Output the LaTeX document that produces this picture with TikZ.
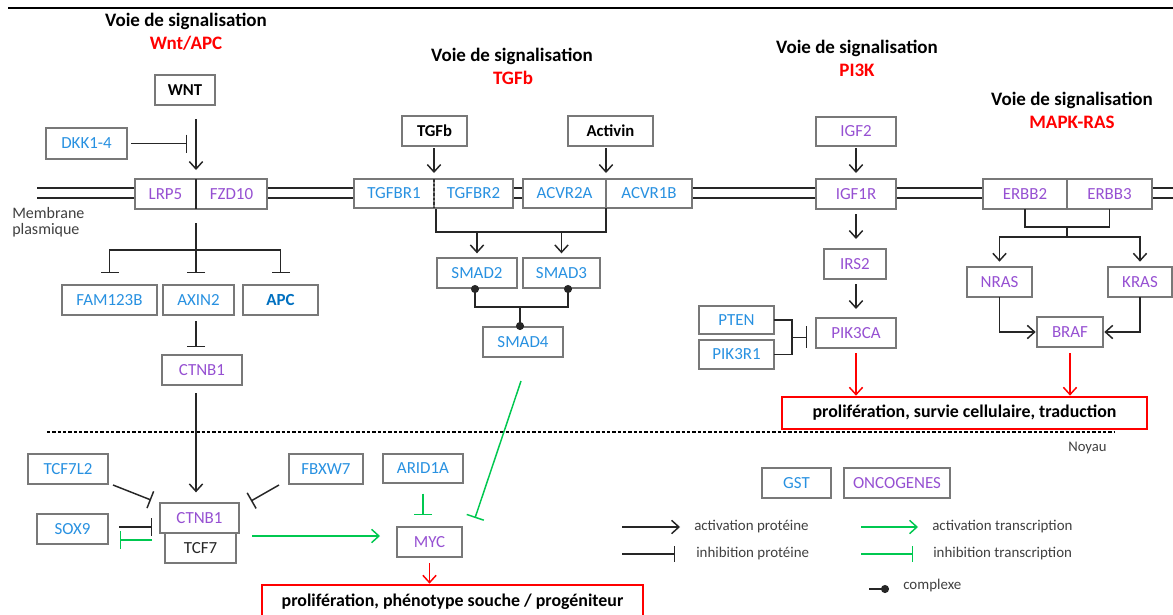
\documentclass[tikz,border=0pt]{standalone}
\usepackage{fontspec}
\setmainfont{Carlito}
\usetikzlibrary{arrows.meta,calc,fit}
\definecolor{gb}{RGB}{40,145,225}
\definecolor{db}{RGB}{0,112,192}
\definecolor{pp}{RGB}{150,80,210}
\definecolor{gr}{RGB}{0,200,80}
\definecolor{bd}{RGB}{120,120,120}
\definecolor{tx}{RGB}{64,64,64}
\definecolor{rd}{RGB}{255,0,0}
\tikzset{
 box/.style={draw=bd, line width=1pt, fill=white, inner sep=0pt, outer sep=0pt},
 lab/.style={inner sep=0pt, font=\fontsize{12.7}{14}\selectfont},
 bl/.style={text=gb},
 pu/.style={text=pp},
 bk/.style={text=black, font=\fontsize{12.5}{14}\selectfont\bfseries},
 apcst/.style={text=db, font=\fontsize{12.7}{14}\selectfont\bfseries},
 plain/.style={text=black!85},
 rbox/.style={draw=rd, line width=1.2pt, fill=white, inner sep=0pt, outer sep=0pt},
 rlab/.style={inner sep=0pt, font=\fontsize{13.4}{15}\selectfont\bfseries},
 ttl/.style={font=\fontsize{14.25}{16}\selectfont\bfseries, inner sep=0pt},
 lg/.style={font=\fontsize{11.2}{13}\selectfont, text=tx, anchor=west, inner sep=0pt},
 ln/.style={line width=1.1pt, black!85},
 act/.style={ln, -{Straight Barb[length=5.5pt,width=10pt]}},
 inh/.style={ln, -{Bar[width=13.5pt]}},
 gact/.style={act, color=gr},
 ginh/.style={inh, color=gr},
 ract/.style={act, color=rd},
}
\newcommand\bx[7][]{\node[box,fit={(#3,#4) (#5,#6)}] (#2) {};
  \node[lab,#1] (#2-t) at (#2.center) {#7};}
\begin{document}
\begin{tikzpicture}[x=0.75pt,y=-0.75pt]
\useasboundingbox (0,0) rectangle (1173,614);
\fill[white] (0,0) rectangle (1173,614);
% top rule
\draw[line width=1.8pt] (8,8) -- (1173,8);
% titles
\node[ttl] (t1a) at (186,21) {Voie de signalisation};
\node[ttl, text=rd] (t1b) at (186,43) {Wnt/APC};
\node[ttl] (t2a) at (512,56) {Voie de signalisation};
\node[ttl, text=rd] (t2b) at (513,78) {TGFb};
\node[ttl] (t3a) at (857,48) {Voie de signalisation};
\node[ttl, text=rd] (t3b) at (857,70) {PI3K};
\node[ttl] (t4a) at (1072,100) {Voie de signalisation};
\node[ttl, text=rd] (t4b) at (1072,122) {MAPK-RAS};
% membrane
\draw[ln] (37,188) -- (1173,188);
\draw[ln] (37,198) -- (1173,198);
\node[lg, font=\fontsize{12}{14}\selectfont] (mem1) at (12,213) {Membrane};
\node[lg, font=\fontsize{12}{14}\selectfont] (mem2) at (12,230) {plasmique};
% nucleus boundary
\draw[line width=0.9pt, dash pattern=on 2.5pt off 1.5pt] (47,432) -- (1115,432);
\node[lg, font=\fontsize{11}{13}\selectfont] (noy) at (1068,448) {Noyau};

% ---- Wnt/APC
\bx[bk]{wnt}{155}{75}{215}{105}{WNT}
\bx[bl]{dkk}{46}{128}{127}{159}{DKK1-4}
\bx[pu]{lrp}{135}{179}{196}{209}{LRP5}
\bx[pu]{fzd}{196}{179}{267}{209}{FZD10}
\draw[ln] (lrp.north east) -- (lrp.south east);
\bx[bl]{fam}{62}{285}{157}{315}{FAM123B}
\bx[bl]{axin}{163}{285}{234}{315}{AXIN2}
\bx[apcst]{apc}{243}{285}{318}{315}{APC}
\bx[pu]{ctnb}{162}{355}{242}{385}{CTNB1}
\bx[bl]{tcfl}{28}{454}{108}{484}{TCF7L2}
\bx[bl]{fbx}{289}{454}{363}{484}{FBXW7}
\bx[pu]{ctnbn}{160}{503}{239}{533}{CTNB1}
\bx[plain]{tcf}{165}{533}{236}{563}{TCF7}
\bx[bl]{sox}{37}{514}{108}{544}{SOX9}
\bx[bl]{arid}{383}{454}{463}{483}{ARID1A}
\bx[pu]{myc}{397}{527}{462}{557}{MYC}
\node[rbox, fit={(262,585) (643,620)}] (out1) {};
\node[rlab] (out1-t) at (452.5,602) {prolifération, phénotype souche / progéniteur};

\draw[act, shorten <=10.5pt, shorten >=6.75pt] (wnt.south -| lrp.east) -- (lrp.north east);
\draw[inh, shorten <=3pt] (dkk.east) -- ++(60,0);
\coordinate (br) at ($(lrp.south east)+(0,41)$);
\draw[ln, shorten <=10.5pt] (lrp.south east) -- (br);
\draw[inh, shorten >=9pt] (br) -| (fam.north);
\draw[inh, shorten >=9pt] (br) -| (apc.north);
\draw[inh, shorten >=9pt] (br) -- (br |- axin.north);
\draw[inh, shorten <=4.5pt, shorten >=6pt] (axin.south -| br) -- (ctnb.north -| br);
\draw[act, shorten <=6pt, shorten >=8pt] (ctnb.south -| br) -- (ctnbn.north -| br);
\draw[inh] ($(tcfl.south east)+(5,1)$) -- ($(ctnbn.north west)+(-9,-3)$);
\draw[inh] ($(fbx.south west)+(-10,1)$) -- ($(ctnbn.north east)+(12,-2)$);
\draw[inh] ($(sox.east)+(11,-2)$) -- ++(33,0);
\draw[ginh] ($(sox.east)+(44,11)$) -- ++(-32,0);
\draw[gact] ($(ctnbn.south east)+(13,3)$) -- ($(myc.west)+(-17,-6)$);
\draw[ginh, shorten <=8pt, shorten >=9pt] (arid.south) -- (arid.south |- myc.north);
\draw[ract, shorten <=4.5pt, shorten >=1pt] (myc.south) -- (myc.south |- out1.north);

% ---- TGFb
\bx[bk]{tgfb}{402}{116}{467}{146}{TGFb}
\bx[bk]{actv}{568}{116}{653}{146}{Activin}
\bx[bl]{tr1}{354}{179}{434}{208}{TGFBR1}
\bx[bl]{tr2}{434}{179}{513}{208}{TGFBR2}
\draw[black!80, line width=0.8pt, dash pattern=on 2pt off 1.5pt] (tr1.north east) -- (tr1.south east);
\bx[bl]{acv2}{523}{179}{606}{208}{ACVR2A}
\bx[bl]{acv1}{606}{179}{692}{208}{ACVR1B}
\bx[bl]{smad2}{437}{258}{517}{288}{SMAD2}
\bx[bl]{smad3}{523}{258}{600}{288}{SMAD3}
\bx[bl]{smad4}{483}{327}{563}{357}{SMAD4}
\draw[act, shorten <=1.5pt, shorten >=4.5pt] (tgfb.south -| tr2.north west) -- (tr2.north west);
\draw[act, shorten <=1.5pt, shorten >=4.5pt] (actv.south -| acv1.north west) -- (acv1.north west);
\draw[ln] ($(tr2.south west)+(2,1)$) -- ++(0,23) -| (acv1.south west);
\coordinate (tb) at ($(tr2.south west)+(0,24)$);
\draw[act, shorten >=3.5pt] (smad2.north |- tb) -- (smad2.north);
\draw[act, shorten >=3.5pt] (smad3.north |- tb) -- (smad3.north);
\draw[ln, {Circle[length=6pt]}-{Circle[length=6pt]}] ($(smad2.south)+(-2,-3)$) -- ++(0,22) -| ($(smad3.south)+(6.5,-3)$);
\draw[ln, -{Circle[length=6pt]}] ($(smad4.north)+(-3,-20)$) -- ($(smad4.north)+(-3,3)$);
\draw[ginh] ($(smad4.south)+(-2,24)$) -- ($(myc.north east)+(13,-9)$);

% ---- PI3K
\bx[pu]{igf2}{816}{117}{896}{146}{IGF2}
\bx[pu]{igf1r}{816}{179}{896}{209}{IGF1R}
\bx[pu]{irs2}{824}{249}{886}{279}{IRS2}
\bx[pu]{pik}{816}{318}{896}{348}{PIK3CA}
\bx[bl]{pten}{699}{306}{774}{334}{PTEN}
\bx[bl]{pikr}{699}{340}{774}{369}{PIK3R1}
\node[rbox, fit={(782,397) (1147,429)}] (out2) {};
\node[rlab] (out2-t) at (out2.center) {prolifération, survie cellulaire, traduction};
\draw[act, shorten <=1.5pt, shorten >=4.5pt] (igf2.south) -- (igf1r.north);
\draw[act, shorten <=3.75pt, shorten >=7.5pt] (igf1r.south) -- (igf1r.south |- irs2.north);
\draw[act, shorten <=3.75pt, shorten >=6.75pt] (igf1r.south |- irs2.south) -- (igf1r.south |- pik.north);
\draw[ln] (pten.east) -- ++(18,0) |- (pikr.east);
\draw[ln, -{Bar[width=16.5pt]}] ($(pten.east)!.5!(pikr.east)+(18,0)$) -- ++(15,0);
\draw[ract, shorten <=3.75pt, shorten >=1pt] (pik.south) -- (pik.south |- out2.north);

% ---- MAPK-RAS
\bx[pu]{erb2}{983}{179}{1067}{209}{ERBB2}
\bx[pu]{erb3}{1067}{179}{1152}{209}{ERBB3}
\bx[pu]{nras}{967}{267}{1032}{297}{NRAS}
\bx[pu]{kras}{1108}{267}{1172}{297}{KRAS}
\bx[pu]{braf}{1037}{317}{1103}{347}{BRAF}
\draw[ln] (erb2.south) -- ++(0,18) -| (erb3.south);
\coordinate (em) at ($(erb2.south east)+(0,28)$);
\draw[ln] ($(erb2.south east)+(0,18)$) -- (em);
\draw[act, shorten >=4pt] (em) -| (nras.north);
\draw[act, shorten >=4pt] (em) -| (kras.north);
\draw[act, shorten >=1pt] (nras.south) |- (braf.west);
\draw[act, shorten >=1pt] (kras.south) |- (braf.east);
\draw[ract, shorten <=4.5pt, shorten >=1pt] (braf.south) -- (braf.south |- out2.north);

% ---- legend
\bx[bl]{gst}{762}{468}{831}{498}{GST}
\bx[pu]{onc}{844}{468}{950}{498}{ONCOGENES}
\node[lg] (la1) at (694,527) {activation protéine};
\node[lg] (lb1) at (696,554) {inhibition protéine};
\node[lg] (la2) at (932,527) {activation transcription};
\node[lg] (lb2) at (933,554) {inhibition transcription};
\node[lg] (lc) at (903,586) {complexe};
\draw[act] ($(la1.west)+(-72,0)$) -- ++(58,0);
\draw[ln, -{Bar[width=12pt]}] ($(lb1.west)+(-74,0)$) -- ++(53,0);
\draw[gact] ($(la2.west)+(-71,0)$) -- ++(57,0);
\draw[ln, color=gr, -{Bar[width=12pt]}] ($(lb2.west)+(-72,0)$) -- ++(52,0);
\draw[ln, -{Circle[length=6pt]}] ($(lc.west)+(-34,3)$) -- ++(20,0);
\end{tikzpicture}
\end{document}
